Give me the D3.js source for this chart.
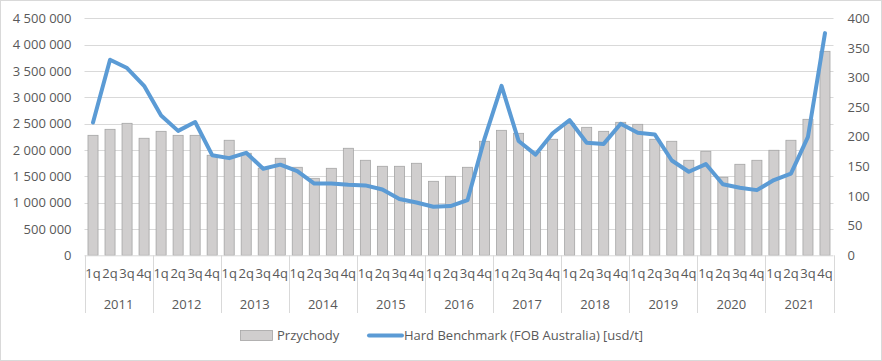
<!DOCTYPE html>
<html><head><meta charset="utf-8">
<script src="https://cdn.jsdelivr.net/npm/d3@7"></script>
<style>
body{margin:0;background:#fff;}
text{font-family:"Open Sans","Liberation Sans",sans-serif;fill:#595959;}
</style></head>
<body><svg id="c" width="882" height="361"></svg>
<script>
const years = ["2011","2012","2013","2014","2015","2016","2017","2018","2019","2020","2021"];
const quarters = ["1q","2q","3q","4q"];
const revenue = [
 2278000,2392000,2506000,2222000,
 2354000,2278000,2278000,1899000,
 2184000,1937000,1655000,1842000,
 1671000,1462000,1652000,2032000,
 1804000,1690000,1690000,1747000,
 1405000,1500000,1671000,2165000,
 2373000,2316000,1955000,2203000,
 2506000,2430000,2354000,2525000,
 2487000,2203000,2165000,1804000,
 1975000,1481000,1728000,1804000,
 1994000,2184000,2582000,3873000];
const benchmark = [
 224,330,316,286,
 236,210,225,169,
 164,173,146,153,
 142,121,121,119,
 118,111,95,89,
 82,83,93,197,
 286,193,170,206,
 228,190,188,222,
 207,204,160,141,
 154,120,114,110,
 127,138,200,375];
const leftTicks = [0,500000,1000000,1500000,2000000,2500000,3000000,3500000,4000000,4500000];
const rightTicks = [0,50,100,150,200,250,300,350,400];
const seriesNames = ["Przychody","Hard Benchmark (FOB Australia) [usd/t]"];

const svg = d3.select("#c");
const L = 84.5, R = 833.5, T = 18.3, B = 255.3;
const keys = [];
years.forEach(y => quarters.forEach(q => keys.push(y + "-" + q)));

svg.append("rect").attr("x",0.5).attr("y",0.5).attr("width",881).attr("height",360)
  .attr("fill","#fff").attr("stroke","#d9d9d9");

const x = d3.scaleBand().domain(keys).range([L,R]).paddingInner(0.41).paddingOuter(0.205);
const xc = d3.scaleBand().domain(keys).range([L,R]);
const yL = d3.scaleLinear().domain([0,4500000]).range([B,T]);
const yR = d3.scaleLinear().domain([0,400]).range([B,T]);
const fmt = v => d3.format(",")(v).replace(/,/g," ");

// gridlines
svg.append("g").selectAll("line").data(leftTicks.slice(1)).join("line")
  .attr("x1",L).attr("x2",R).attr("y1",d=>Math.round(yL(d))+0.5).attr("y2",d=>Math.round(yL(d))+0.5)
  .attr("stroke","#d9d9d9").attr("stroke-width",1);

// left axis
const gl = svg.append("g").attr("transform",`translate(${L},0)`)
  .call(d3.axisLeft(yL).tickValues(leftTicks).tickFormat(fmt).tickSize(0).tickPadding(13));
gl.select(".domain").remove();
gl.selectAll("text").attr("font-size",13).attr("fill","#595959").style("font-family","'Open Sans','Liberation Sans',sans-serif");

// right axis
const gr = svg.append("g").attr("transform",`translate(${R},0)`)
  .call(d3.axisRight(yR).tickValues(rightTicks).tickSize(0).tickPadding(14));
gr.select(".domain").remove();
gr.selectAll("text").attr("font-size",13).attr("fill","#595959").style("font-family","'Open Sans','Liberation Sans',sans-serif");

// bars
svg.append("g").selectAll("rect").data(revenue).join("rect")
  .attr("x",(d,i)=>x(keys[i])).attr("width",x.bandwidth())
  .attr("y",d=>yL(d)).attr("height",d=>B-yL(d))
  .attr("fill","#d0cece").attr("stroke","#a5a5a5").attr("stroke-width",0.8);

// category axis baseline
svg.append("line").attr("x1",L).attr("x2",R).attr("y1",B+0.5).attr("y2",B+0.5).attr("stroke","#d9d9d9");
// year separators
const sep = years.map((y,i)=>xc(y+"-1q")).concat([R]);
svg.append("g").selectAll("line").data(sep).join("line")
  .attr("x1",d=>Math.round(d)+0.5).attr("x2",d=>Math.round(d)+0.5).attr("y1",B).attr("y2",313)
  .attr("stroke","#d9d9d9");
// quarter labels
svg.append("g").selectAll("text").data(keys).join("text")
  .attr("x",d=>xc(d)+xc.bandwidth()/2).attr("y",278).attr("text-anchor","middle")
  .attr("font-size",13).text(d=>d.split("-")[1]);
// year labels
svg.append("g").selectAll("text").data(years).join("text")
  .attr("x",d=>(xc(d+"-1q")+xc(d+"-4q")+xc.bandwidth())/2).attr("y",309).attr("text-anchor","middle")
  .attr("font-size",13).text(d=>d);

// line
const line = d3.line().x((d,i)=>xc(keys[i])+xc.bandwidth()/2).y(d=>yR(d));
svg.append("path").datum(benchmark).attr("d",line).attr("fill","none")
  .attr("stroke","#5b9bd5").attr("stroke-width",4).attr("stroke-linejoin","round").attr("stroke-linecap","round");

// legend
const lg = svg.append("g");
lg.append("rect").attr("x",240.5).attr("y",330.5).attr("width",32).attr("height",10)
  .attr("fill","#d0cece").attr("stroke","#a5a5a5").attr("stroke-width",0.8);
lg.append("text").attr("x",277).attr("y",340).attr("font-size",13).text(seriesNames[0]);
lg.append("line").attr("x1",369).attr("x2",402).attr("y1",335.5).attr("y2",335.5)
  .attr("stroke","#5b9bd5").attr("stroke-width",4).attr("stroke-linecap","round");
lg.append("text").attr("x",404).attr("y",340).attr("font-size",13).text(seriesNames[1]);
</script></body></html>
